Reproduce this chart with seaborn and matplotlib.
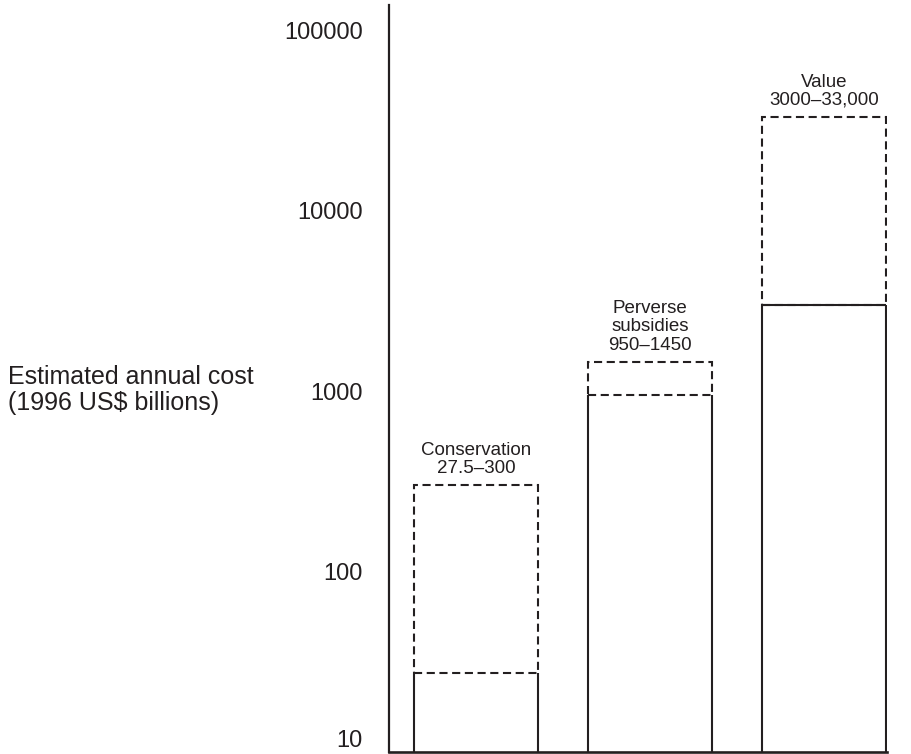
import matplotlib
matplotlib.use("Agg")
import matplotlib.pyplot as plt
import seaborn as sns
import pandas as pd

# Cost ranges (1996 US$ billions): lower bound = solid bar, upper bound = dashed bar
categories = ["Conservation", "Perverse subsidies", "Value"]
bar_titles = ["Conservation", "Perverse\nsubsidies", "Value"]
range_text = ["27.5–300", "950–1450", "3000–33,000"]
lower = [27.5, 950, 3000]
upper = [300, 1450, 33000]
lower_edge_dashed = [True, True, False]

y_ticks = [10, 100, 1000, 10000, 100000]
y_tick_labels = ["10", "100", "1000", "10000", "100000"]
y_title = "Estimated annual cost\n(1996 US$ billions)"

sns.set_theme(style="white")
plt.rcParams["font.family"] = ["Liberation Sans", "DejaVu Sans"]

ink = "#231f20"
lw = 1.5
dash = (0, (3.9, 2.2))

fig = plt.figure(figsize=(9.12, 7.54), dpi=100)
ax = fig.add_axes([389 / 912, 2 / 754, (887 - 389) / 912, (752 - 5) / 754])

df = pd.DataFrame({"category": categories, "lower": lower, "upper": upper})

# Bars for the upper bound of each range
sns.barplot(data=df, x="category", y="upper", order=categories, ax=ax,
            fill=False, color=ink, width=0.713, errorbar=None,
            log_scale=(False, True))

ax.set_ylim(10, 10 ** 5.14)
ax.set_xlim(-0.5, 2.36)
y_floor = ax.get_ylim()[0]

bars = list(ax.patches)
for i, p in enumerate(bars):
    # Dashed box spans the uncertain part of the range: lower -> upper
    p.set_y(lower[i])
    p.set_height(upper[i] - lower[i])
    p.set_facecolor("none")
    p.set_edgecolor(ink)
    p.set_linewidth(lw)
    p.set_linestyle(dash)
    x0 = p.get_x()
    x1 = x0 + p.get_width()
    # Solid box from the baseline up to the lower bound
    ax.vlines([x0, x1], y_floor, lower[i], colors=ink, lw=lw, zorder=3)
    if not lower_edge_dashed[i]:
        ax.hlines(lower[i], x0, x1, colors=ink, lw=lw, zorder=3)
    ax.annotate(f"{bar_titles[i]}\n{range_text[i]}",
                xy=(x0 + p.get_width() / 2, upper[i]),
                xytext=(0, 6), textcoords="offset points",
                ha="center", va="bottom", fontsize=13.5, linespacing=1.1,
                color=ink, annotation_clip=False)

ax.set_yticks(y_ticks, y_tick_labels)
ax.minorticks_off()
ax.tick_params(axis="y", length=0, pad=19, labelsize=17, labelcolor=ink)
ax.get_yticklabels()[0].set_verticalalignment("bottom")
ax.set_xticks([])
ax.set_xlabel("")

for side in ("top", "right"):
    ax.spines[side].set_visible(False)
ax.spines["left"].set_color(ink)
ax.spines["left"].set_linewidth(1.6)
ax.spines["bottom"].set_color(ink)
ax.spines["bottom"].set_linewidth(1.9)

ax.set_ylabel(y_title, rotation=0, ha="left", va="center", fontsize=18,
              color=ink, linespacing=1.15)
ax.yaxis.set_label_coords(8 / 912, 1 - 390 / 754, transform=fig.transFigure)

fig.savefig("out.png", dpi=100)
